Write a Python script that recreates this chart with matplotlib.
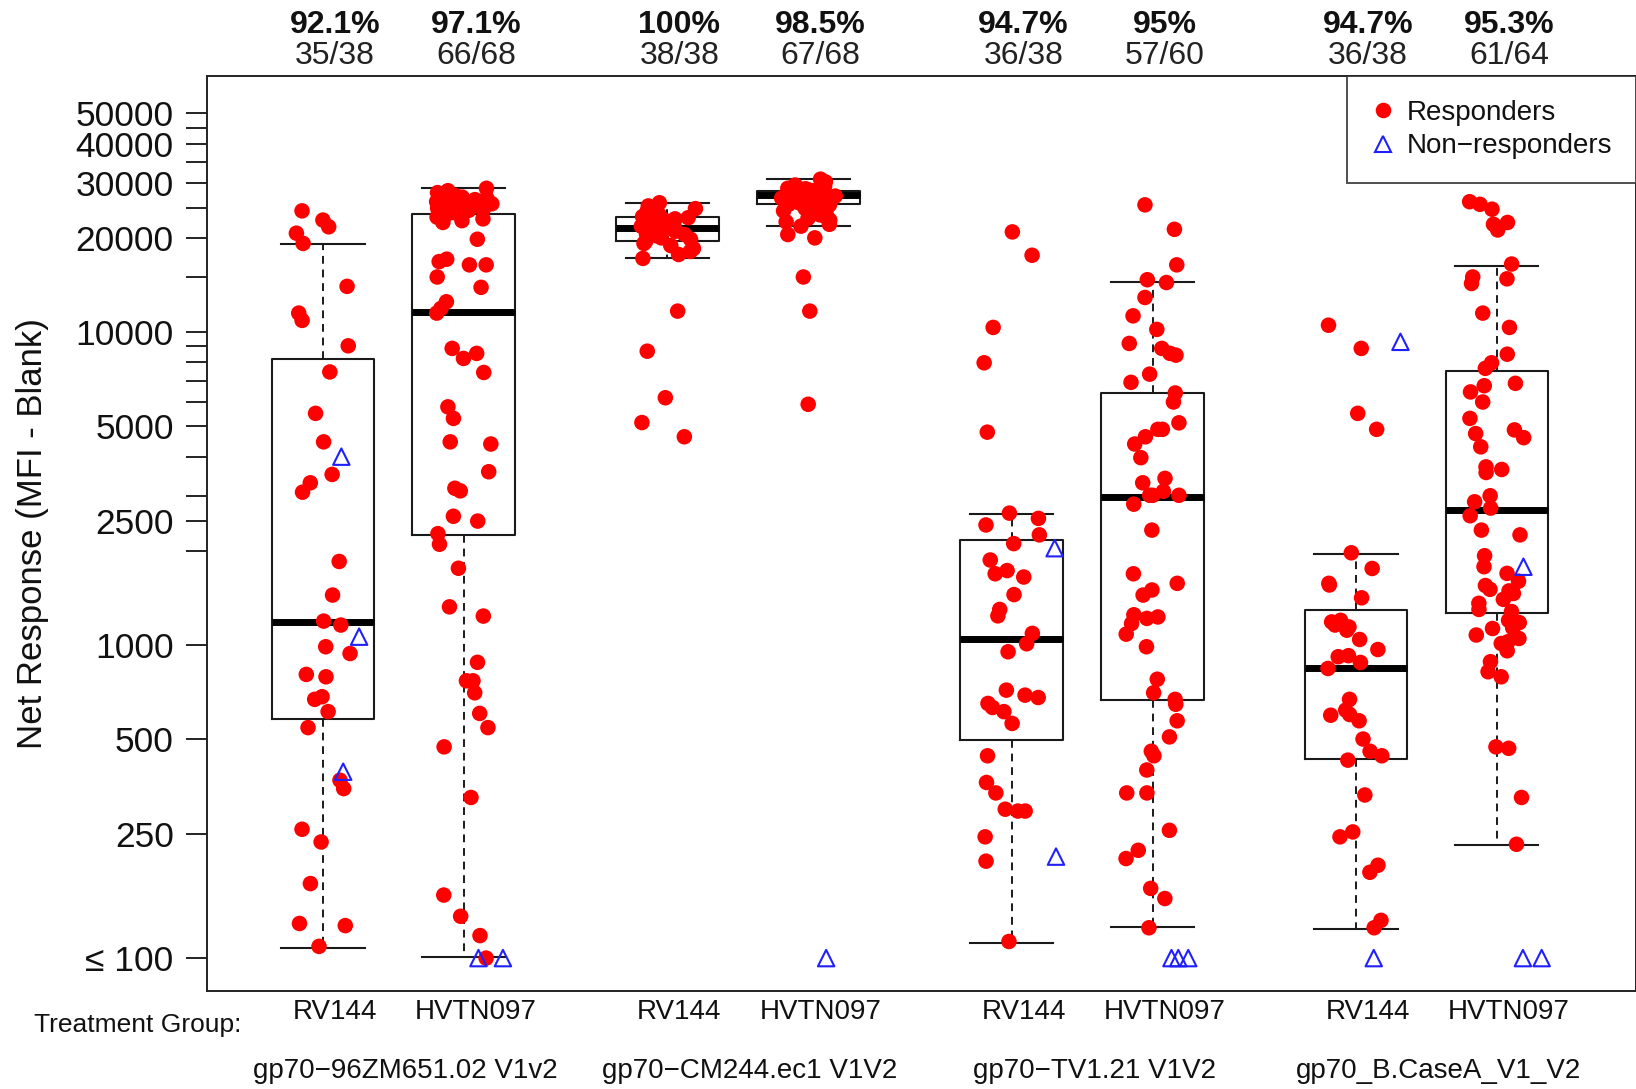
import numpy as np
import matplotlib
matplotlib.use("Agg")
import matplotlib.pyplot as plt
from matplotlib import transforms
from matplotlib.lines import Line2D
from matplotlib.ticker import FixedLocator, FixedFormatter, NullLocator

# ---------------- data ----------------
antigens = ["gp70\u221296ZM651.02 V1v2", "gp70\u2212CM244.ec1 V1V2",
            "gp70\u2212TV1.21 V1V2", "gp70_B.CaseA_V1_V2"]
treatments = ["RV144", "HVTN097"]

resp_g1 = [24400, 22800, 21700, 20700, 19200, 14000, 11500, 10900, 9040, 7460,
           5500, 4460, 3510, 3300, 3080, 1850, 1445, 1193, 1159, 988,
           940, 806, 792, 684, 671, 613, 545, 370, 348, 258,
           235, 173, 129, 127, 109]
nonr_g1 = [4000, 1064, 394]

resp_g2 = [28800, 28300, 27900, 27600, 27300, 27000, 26800, 26500, 26300, 26100,
           25900, 25700, 25500, 25300, 25100, 24900, 24700, 24500, 24300, 24100,
           23900, 23600, 23300, 23000, 22700, 22400,
           19800, 17100, 16800, 16400, 16400, 15000, 13900, 12500, 11900, 11500,
           8870, 8550, 8240, 7430, 5770, 5300, 4460, 4390, 3580, 3170,
           3110, 2580, 2490, 2270, 2100, 1760, 1325, 1238, 881, 769,
           769, 704, 605, 545, 473, 326, 159, 136, 118, 100]
nonr_g2 = [100, 100]

resp_g3 = [25900, 25300, 24800, 24400, 24000, 23700, 23400, 23200, 23000, 22800,
           22600, 22400, 22200, 22000, 21800, 21600, 21500, 21400, 21200, 21000,
           20800, 20600, 20300, 20000, 19800, 19500, 19200, 18900, 18500, 18100,
           17700, 17200, 20500, 11670, 8690, 6170, 5140, 4630]
nonr_g3 = []

resp_g4 = [30800, 30200, 29800, 29500, 29200, 29000, 28800, 28600, 28500, 28400,
           28300, 28200, 28100, 28000, 27900, 27800, 27700, 27600, 27500, 27500,
           27400, 27400, 27300, 27200, 27100, 27000, 26900, 26800, 26700, 26600,
           26500, 26400, 26300, 26200, 26100, 26000, 25900, 25800, 25700, 25600,
           25500, 25400, 25300, 25200, 25000, 24800, 24600, 24400, 24200, 24000,
           23700, 23400, 23100, 22800, 22500, 22100, 21800, 26900, 27900, 28700,
           26300, 27000, 20500, 20000, 15000, 11670, 5880]
nonr_g4 = [100]

resp_g5 = [20900, 17600, 10350, 7980, 4790, 2640, 2540, 2420, 2250, 2110,
           1870, 1730, 1690, 1650, 1450, 1300, 1240, 1090, 1010, 952,
           718, 692, 680, 651, 632, 613, 562, 443, 364, 337,
           299, 295, 295, 244, 204, 113]
nonr_g5 = [2040, 211]

resp_g6 = [25500, 21300, 16400, 14700, 14400, 12900, 11270, 10200, 9200, 8870,
           8550, 8440, 7340, 6910, 6390, 5980, 5130, 4890, 4890, 4630,
           4390, 3970, 3410, 3300, 3100, 3010, 3010, 3010, 2820, 2330,
           1690, 1575, 1500, 1445, 1250, 1230, 1217, 1172, 1084, 988,
           778, 704, 671, 647, 573, 509, 458, 443, 399, 337,
           337, 256, 221, 208, 167, 155, 125]
nonr_g6 = [100, 100, 100]

resp_g7 = [10520, 8870, 5500, 4890, 1972, 1757, 1575, 1556, 1416, 1200,
           1186, 1159, 1143, 1116, 1042, 968, 925, 918, 880, 842,
           671, 620, 600, 597, 573, 501, 458, 443, 429, 332,
           253, 244, 198, 188, 132, 125]
nonr_g7 = [9310, 100]

resp_g8 = [26100, 25600, 24700, 22400, 22100, 21200, 16500, 15000, 14800, 14300,
           11500, 10350, 8500, 7980, 7660, 6860, 6740, 6440, 5980, 5300,
           4870, 4740, 4600, 4300, 3710, 3640, 3560, 3000, 2870, 2740,
           2590, 2330, 2250, 1930, 1780, 1695, 1600, 1550, 1507, 1490,
           1462, 1400, 1360, 1300, 1280, 1200, 1180, 1135, 1130, 1077,
           1050, 1025, 1012, 959, 885, 822, 792, 473, 468, 326, 231]
nonr_g8 = [1780, 100, 100]

responders = [resp_g1, resp_g2, resp_g3, resp_g4, resp_g5, resp_g6, resp_g7, resp_g8]
nonresponders = [nonr_g1, nonr_g2, nonr_g3, nonr_g4, nonr_g5, nonr_g6, nonr_g7, nonr_g8]

# box statistics (responders)
box_whislo = [108, 101, 17200, 21800, 112, 126, 124, 230]
box_q1 = [580, 2245, 19500, 25600, 497, 667, 432, 1271]
box_med = [1184, 11560, 21500, 27400, 1045, 2980, 846, 2700]
box_q3 = [8190, 23900, 23300, 28300, 2160, 6370, 1290, 7510]
box_whishi = [19050, 28800, 25900, 30800, 2620, 14500, 1954, 16300]

ytick_values = [100, 250, 500, 1000, 2500, 5000, 10000, 20000, 30000, 40000, 50000]
ytick_labels = ["\u2264 100", "250", "500", "1000", "2500", "5000", "10000",
                "20000", "30000", "40000", "50000"]
yminor_values = [2000, 3000, 4000, 6000, 7000, 8000, 9000, 15000, 25000, 35000, 45000]

# ---------------- style ----------------
plt.rcParams['font.family'] = ['Liberation Sans', 'DejaVu Sans']
W, H = 1636, 1089
fig = plt.figure(figsize=(W / 100, H / 100), dpi=100)
ax = fig.add_axes([207 / W, 1 - 991 / H, 1 - 207 / W, (991 - 76) / H])
ax.set_yscale('log')
ax.set_ylim(78.5, 65800)
ax.set_xlim(0.092, 10.234)

group_gap = 2.444
positions = []
for g in range(len(antigens)):
    for j in range(len(treatments)):
        positions.append(1 + g * group_gap + j)
positions = np.array(positions)
box_shift = -0.085
box_pos = positions + box_shift

stats = []
for i in range(len(positions)):
    stats.append(dict(med=box_med[i], q1=box_q1[i], q3=box_q3[i],
                      whislo=box_whislo[i], whishi=box_whishi[i], fliers=[]))
edge = '#1a1a1a'
ax.bxp(stats, positions=box_pos, widths=0.73, capwidths=0.59, showfliers=False,
       manage_ticks=False,
       boxprops=dict(color=edge, lw=1.5),
       medianprops=dict(color='black', lw=5.0, solid_capstyle='butt'),
       whiskerprops=dict(color=edge, lw=1.4, linestyle=(0, (4, 3))),
       capprops=dict(color=edge, lw=1.5))

rng = np.random.default_rng(11)
for i in range(len(positions)):
    r = np.maximum(np.array(responders[i], float), 100)
    xr = box_pos[i] + rng.uniform(-0.2, 0.2, len(r))
    ax.scatter(xr, r, s=125, color='#ff0000', edgecolors='none', zorder=3)
    nr = np.maximum(np.array(nonresponders[i], float), 100)
    if len(nr):
        xn = positions[i] + 0.13 + rng.uniform(-0.12, 0.12, len(nr))
        ax.scatter(xn, nr, s=140, marker='^', facecolors='none',
                   edgecolors='#2020ff', linewidths=1.5, zorder=4)

# y axis
ax.yaxis.set_major_locator(FixedLocator(ytick_values + yminor_values))
ax.yaxis.set_major_formatter(FixedFormatter(ytick_labels + [""] * len(yminor_values)))
ax.yaxis.set_minor_locator(NullLocator())
ax.tick_params(axis='y', length=15, width=1.3, pad=9, labelsize=25.5, colors='#111111')
ax.set_xticks([])
for sp in ax.spines.values():
    sp.set_linewidth(1.4)
    sp.set_color('#222222')

fig.text(0.0196, 0.5096, "Net Response (MFI - Blank)", rotation=90,
         ha='center', va='center', fontsize=25, color='#111111')

# top labels
btrans = transforms.blended_transform_factory(ax.transData, fig.transFigure)
for i in range(len(positions)):
    n_r = len(responders[i])
    n_t = n_r + len(nonresponders[i])
    pct = round(100 * n_r / n_t, 1)
    ax.text(positions[i], 1 - 25 / H, f"{pct:g}%", transform=btrans, ha='center',
            va='center', fontsize=23, fontweight='bold', color='#111111', clip_on=False)
    ax.text(positions[i], 1 - 56.5 / H, f"{n_r}/{n_t}", transform=btrans, ha='center',
            va='center', fontsize=23, color='#222222', clip_on=False)
    ax.text(positions[i], 1 - 1012 / H, treatments[i % 2], transform=btrans,
            ha='center', va='center', fontsize=20, color='#111111', clip_on=False)

for g in range(len(antigens)):
    xc = (positions[2 * g] + positions[2 * g + 1]) / 2
    ax.text(xc, 1 - 1071.5 / H, antigens[g], transform=btrans, ha='center',
            va='center', fontsize=20, color='#111111', clip_on=False)

fig.text(34 / W, 1 - 1025 / H, "Treatment Group:", ha='left', va='center',
         fontsize=19, color='#111111')

handles = [Line2D([], [], ls='none', marker='o', color='#ff0000', mec='none', ms=11.2),
           Line2D([], [], ls='none', marker='^', mfc='none', mec='#2020ff', mew=1.5, ms=12)]
leg = ax.legend(handles, ["Responders", "Non\u2212responders"], loc='upper right',
                bbox_to_anchor=(1.0, 1.0), borderaxespad=0, frameon=True,
                fancybox=False, edgecolor='#222222', fontsize=20, handlelength=0.9,
                handletextpad=0.4, borderpad=0.85, labelspacing=0.28)
leg.get_frame().set_linewidth(1.4)
for t in leg.get_texts():
    t.set_color('#111111')

fig.savefig("out.png", dpi=100)
